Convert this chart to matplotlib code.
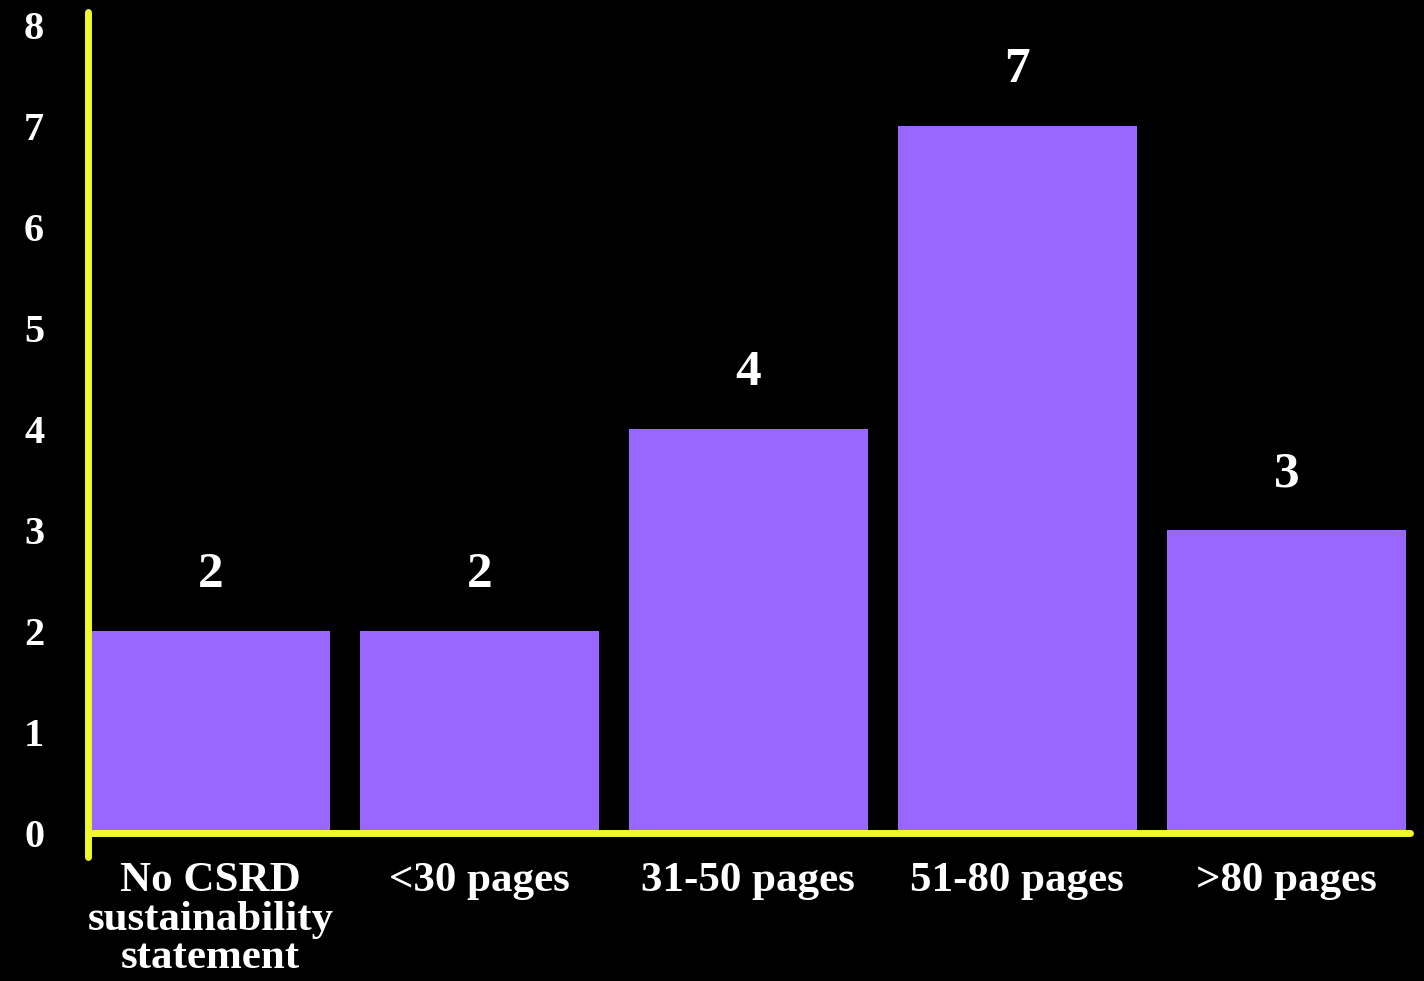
import matplotlib.pyplot as plt
import numpy as np

categories = ["No CSRD\nsustainability\nstatement", "<30 pages", "31-50 pages", "51-80 pages", ">80 pages"]
counts = [2, 2, 4, 7, 3]
yticks = [0, 1, 2, 3, 4, 5, 6, 7, 8]

bar_color = "#9966FF"
axis_color = "#EFF92B"
font = ["Liberation Serif", "DejaVu Serif"]

fig = plt.figure(figsize=(14.24, 9.81), dpi=100, facecolor="black")
ax = fig.add_axes([88 / 1424, 1 - 833 / 981, (1410 - 88) / 1424, (833 - 25) / 981])
ax.set_facecolor("black")

x = np.arange(len(categories))
bars = ax.bar(x, counts, width=0.89, color=bar_color, zorder=2)
ax.set_xlim(-0.455, 4.46)
ax.set_ylim(0, 8)

for b, v in zip(bars, counts):
    ax.annotate(str(v), (b.get_x() + b.get_width() / 2, v), xytext=(0, 40),
                textcoords="offset points", ha="center", va="center",
                color="white", fontsize=37, fontweight="bold", family=font)

for s in ax.spines.values():
    s.set_visible(False)

# axis lines drawn by hand so they can run past the plot area
ax.plot([0, 0], [-0.03, 1.016], transform=ax.transAxes, color=axis_color,
        lw=5, solid_capstyle="round", clip_on=False, zorder=3)
ax.plot([0, 1], [0, 0], transform=ax.transAxes, color=axis_color,
        lw=5, solid_capstyle="round", clip_on=False, zorder=3)

ax.set_yticks(yticks)
ax.set_yticklabels([str(t) for t in yticks], family=font, fontweight="bold",
                   fontsize=29, color="white", ha="left")
ax.tick_params(axis="y", length=0, pad=46)

ax.set_xticks(x)
ax.set_xticklabels(categories, family=font, fontweight="bold", fontsize=31,
                   color="white", linespacing=1.02)
ax.tick_params(axis="x", length=0, pad=21)

fig.savefig("out.png", dpi=100, facecolor="black")
